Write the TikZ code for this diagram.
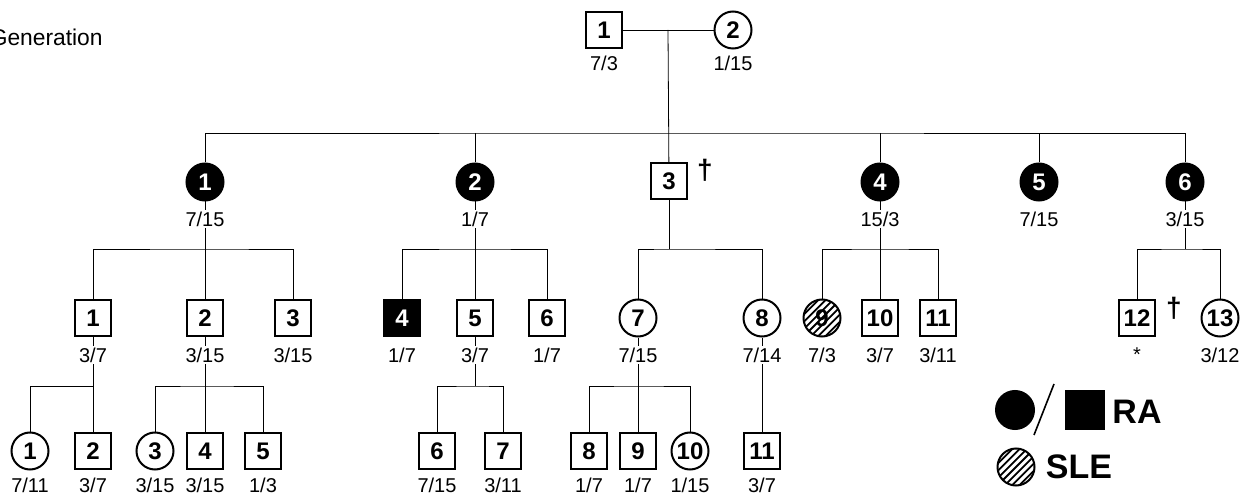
\documentclass[tikz,border=0pt]{standalone}
\usepackage{fontspec}
\setmainfont{Liberation Sans}
\usetikzlibrary{calc,backgrounds}
\tikzset{
  person/.style={draw,line width=1pt,minimum size=18pt,inner sep=0pt,fill=white,font=\fontsize{12}{12}\selectfont\bfseries},
  msq/.style={person,rectangle},
  fci/.style={person,circle,minimum size=18.5pt},
  fcia/.style={fci,fill=black,text=white},
  msqa/.style={msq,fill=black,text=white},
  fsle/.style={fci,path picture={\foreach \i in {-5,...,5} \draw[line width=0.9pt] ($(path picture bounding box.center)+(\i*3.6pt-12pt,-12pt)$) -- ++(24pt,24pt);}},
  nt/.style={fill=white,inner sep=1pt,font=\fontsize{10}{11}\selectfont},
  ln/.style={line width=0.9pt},
  dg/.style={inner sep=0pt,font=\fontsize{14}{14}\selectfont\bfseries},
  leg/.style={inner sep=0pt,font=\fontsize{17}{17}\selectfont\bfseries},
}

\begin{document}
\begin{tikzpicture}[x=0.5pt,y=-0.5pt]
\useasboundingbox (0,0) rectangle (1247,497);
\node[anchor=east,inner sep=0pt,font=\fontsize{11.4}{13}\selectfont] (gen) at (103,37) {Generation};
% generation I
\node[msq] (I1) at (604,30) {1};
\node[fci] (I2) at (733,30) {2};
% generation II
\node[fcia] (II1) at (205,182) {1};
\node[fcia] (II2) at (475,182) {2};
\node[msq]  (II3) at (669,181) {3};
\node[fcia] (II4) at (880,182) {4};
\node[fcia] (II5) at (1039,182) {5};
\node[fcia] (II6) at (1185,182) {6};
\node[dg] (dg1) at (705,170) {†};
% generation III
\node[msq]  (III1) at (93,318) {1};
\node[msq]  (III2) at (205,318) {2};
\node[msq]  (III3) at (293,318) {3};
\node[msqa] (III4) at (402,318) {4};
\node[msq]  (III5) at (475,318) {5};
\node[msq]  (III6) at (547,318) {6};
\node[fci]  (III7) at (638,318) {7};
\node[fci]  (III8) at (762,318) {8};
\node[fsle] (III9) at (822,318) {9};
\node[msq]  (III10) at (880,318) {10};
\node[msq]  (III11) at (938,318) {11};
\node[msq]  (III12) at (1137,318) {12};
\node[fci]  (III13) at (1220,318) {13};
\node[dg] (dg2) at (1174,308) {†};
% generation IV
\node[fci] (IV1) at (30,451) {1};
\node[msq] (IV2) at (93,451) {2};
\node[fci] (IV3) at (155,451) {3};
\node[msq] (IV4) at (205,451) {4};
\node[msq] (IV5) at (263,451) {5};
\node[msq] (IV6) at (437,451) {6};
\node[msq] (IV7) at (503,451) {7};
\node[msq] (IV8) at (589,451) {8};
\node[msq] (IV9) at (638,451) {9};
\node[fci] (IV10) at (690,451) {10};
\node[msq] (IV11) at (762,451) {11};
% dates under the symbols
\foreach \p/\a/\b in {I1/7/3,I2/1/15}
  \node[nt] (t\p) at ($(\p)+(0,33)$) {\a/\b};
\foreach \p/\a/\b in {II1/7/15,II2/1/7,II4/15/3,II5/7/15,II6/3/15,
  III1/3/7,III2/3/15,III3/3/15,III4/1/7,III5/3/7,III6/1/7,III7/7/15,III8/7/14,III9/7/3,
  III10/3/7,III11/3/11,III13/3/12}
  \node[nt] (t\p) at ($(\p)+(0,37)$) {\a/\b};
\foreach \p/\a/\b in {IV1/7/11,IV2/3/7,IV3/3/15,IV4/3/15,IV5/1/3,
  IV6/7/15,IV7/3/11,IV8/1/7,IV9/1/7,IV10/1/15,IV11/3/7}
  \node[nt] (t\p) at ($(\p)+(0,34)$) {\a/\b};
\node[nt] (tIII12) at ($(III12)+(0,37)$) {*};
% legend
\node[fcia,minimum size=19pt] (lgf) at (1015,410) {};
\node[msqa,minimum size=19pt] (lgm) at (1085,410) {};
\node[leg] (lgRA) at (1137,412) {RA};
\coordinate (ls1) at (1034,435);
\coordinate (ls2) at (1054,384);
\draw[line width=0.8pt] (ls1) -- (ls2);
\node[fsle] (lgs) at (1016,467) {};
\node[leg] (lgSLE) at (1079,467) {SLE};
% lines of descent
\coordinate (mI) at (668,30);
\coordinate (b1) at (668,133);
\coordinate (b2) at (205,249);
\coordinate (b3) at (475,249);
\coordinate (b4) at (669,249);
\coordinate (b5) at (880,249);
\coordinate (b6) at (1185,249);
\coordinate (c1) at (93,386);
\coordinate (c2) at (205,386);
\coordinate (c3) at (475,386);
\coordinate (c4) at (638,386);
\begin{scope}[on background layer,ln]
\draw (I1) -- (I2);
\draw (mI) -- (II3);
\draw (II1) |- (b1) -| (II6);
\foreach \n in {II2,II4,II5} \draw (\n) -- (\n |- b1);
\draw (II1) -- (III2); \draw (III1) |- (b2) -| (III3);
\draw (II2) -- (III5); \draw (III4) |- (b3) -| (III6);
\draw (II3) -- (b4);   \draw (III7) |- (b4) -| (III8);
\draw (II4) -- (III10); \draw (III9) |- (b5) -| (III11);
\draw (II6) -- (b6);   \draw (III12) |- (b6) -| (III13);
\draw (III1) -- (IV2); \draw (IV1) |- (c1);
\draw (III2) -- (IV4); \draw (IV3) |- (c2) -| (IV5);
\draw (III5) -- (c3);  \draw (IV6) |- (c3) -| (IV7);
\draw (III7) -- (IV9); \draw (IV8) |- (c4) -| (IV10);
\draw (III8) -- (IV11);
\end{scope}
\end{tikzpicture}
\end{document}
